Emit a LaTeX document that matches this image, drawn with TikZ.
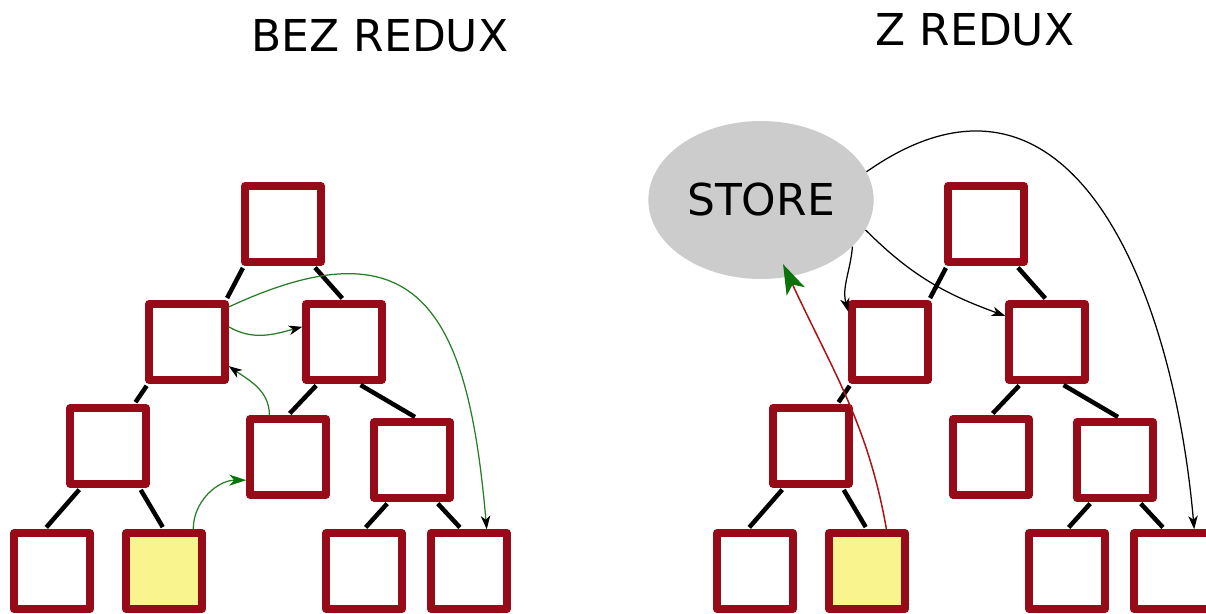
\documentclass[tikz,border=0pt]{standalone}
\usepackage{fontspec}
\setmainfont{DejaVu Sans}
\usetikzlibrary{positioning,arrows.meta,shapes.geometric}
\definecolor{boxred}{RGB}{151,10,24}
\definecolor{leafyellow}{RGB}{249,244,142}
\definecolor{flowgreen}{RGB}{40,125,40}
\definecolor{headgreen}{RGB}{10,115,10}
\definecolor{storegray}{RGB}{204,204,204}
\definecolor{backred}{RGB}{170,20,20}

\begin{document}
\begin{tikzpicture}[on grid, font=\fontsize{25}{30}\selectfont,
    state/.style={draw=boxred, fill=white, line width=0.15cm, line join=round, minimum size=1.52cm, inner sep=0pt},
    line/.style={black, line width=0.09cm, shorten <=0.05cm, shorten >=0.05cm},
    flow/.style={draw=flowgreen, line width=0.025cm, -{Stealth[black, length=0.27cm, width=0.19cm, inset=0.08cm]}},
    pull/.style={black, line width=0.025cm, -{Stealth[length=0.27cm, width=0.19cm, inset=0.08cm]}}]
\clip (0,0) rectangle (24.12,-12.26);
% bez redux
\node (beztitle) at (7.6,-0.72) {BEZ REDUX};
\node[state] (A) at (5.66,-4.48) {};
\node[state] (B) [below left=2.36cm and 1.92cm of A] {};
\node[state] (C) [below right=2.36cm and 1.22cm of A] {};
\node[state] (D) [below left=2.08cm and 1.58cm of B] {};
\node[state] (E) [below left=2.30cm and 1.12cm of C] {};
\node[state] (F) [below right=2.36cm and 1.36cm of C] {};
\node[state] (G) [below left=2.5cm and 1.12cm of D] {};
\node[state, fill=leafyellow] (H) [below right=2.5cm and 1.12cm of D] {};
\node[state] (I) [below left=2.22cm and 0.96cm of F] {};
\node[state] (J) [below right=2.22cm and 1.14cm of F] {};
\draw[line] (A.227) -- (B.47);
\draw[line] (A.306) -- (C.north);
\draw[line] (B.227) -- (D.58);
\draw[line] (C.238) -- (E.north);
\draw[line] (C.289) -- (F.83);
\draw[line] (D.237) -- (G.100);
\draw[line] (D.307) -- (H.north);
\draw[line] (F.241) -- (I.north);
\draw[line] (F.300) -- (J.100);
\draw[flow, -{Stealth[headgreen, length=0.34cm, width=0.22cm, inset=0.1cm]}] (H.55) to[out=90,in=180] (E.209);
\draw[flow] (E.114) to[out=90,in=-35] (B.-30);
\draw[flow] (B.20) to[out=-30,in=195] (C.160);
\draw[flow] (B.40) to[out=25,in=95,looseness=1.6] (J.67);
% z redux
\node (ztitle) at (19.5,-0.6) {Z REDUX};
\node[ellipse, fill=storegray, minimum width=4.3cm, minimum height=3.16cm] (store) at (15.22,-4.0) {STORE};
\node[state] (K) at (19.72,-4.48) {};
\node[state] (L) [below left=2.36cm and 1.92cm of K] {};
\node[state] (M) [below right=2.36cm and 1.22cm of K] {};
\node[state] (N) [below left=2.08cm and 1.58cm of L] {};
\node[state] (O) [below left=2.30cm and 1.12cm of M] {};
\node[state] (P) [below right=2.36cm and 1.36cm of M] {};
\node[state] (Q) [below left=2.5cm and 1.12cm of N] {};
\node[state, fill=leafyellow] (R) [below right=2.5cm and 1.12cm of N] {};
\node[state] (S) [below left=2.22cm and 0.96cm of P] {};
\node[state] (T) [below right=2.22cm and 1.14cm of P] {};
\draw[line] (K.227) -- (L.47);
\draw[line] (K.306) -- (M.north);
\draw[line] (L.227) -- (N.58);
\draw[line] (M.238) -- (O.north);
\draw[line] (M.289) -- (P.83);
\draw[line] (N.237) -- (Q.100);
\draw[line] (N.307) -- (R.north);
\draw[line] (P.241) -- (S.north);
\draw[line] (P.300) -- (T.100);
\draw[pull] (store.15) to[out=35,in=95,looseness=1.3] (T.62);
\draw[pull] (store.-27) to[out=-95,in=105] (L.144);
\draw[pull] (store.-16) to[out=-45,in=160] (M.148);
\draw[draw=backred, line width=0.03cm, shorten >=-0.28cm, -{Stealth[headgreen, length=0.6cm, width=0.4cm, inset=0.15cm]}] (R.65) to[out=100,in=-65] (store.-70);
\end{tikzpicture}
\end{document}
